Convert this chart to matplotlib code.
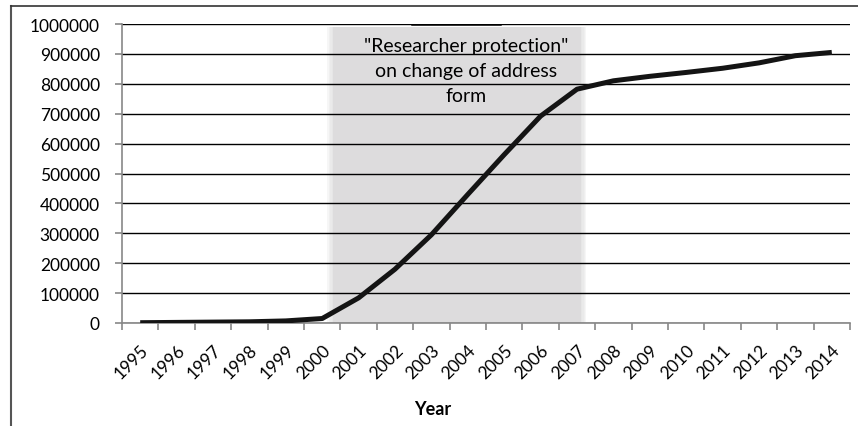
import matplotlib
matplotlib.use("Agg")
from matplotlib import pyplot as plt
from matplotlib.patches import Rectangle
import numpy as np

plt.rcParams['font.family'] = ['Lato', 'DejaVu Sans']

# Cumulative count per year
years = [str(y) for y in range(1995, 2015)]
counts = [1000, 2000, 3000, 4000, 7000, 15000, 84000, 180000, 295000, 430000,
          563000, 692000, 782000, 810000, 825000, 838000, 852000, 870000, 894000, 905000]

# Period when the address form carried the protection option
shade_from, shade_to = 5.3, 12.1
note = '"Researcher protection"\non change of address\nform'

fig = plt.figure(figsize=(8.58, 4.27), dpi=100)
ax = fig.add_axes([122 / 858, 1 - 324 / 427, 728 / 858, 299 / 427])

x = np.arange(len(years))

# soft-edged grey band
for k in range(5):
    off = (4 - k) * 0.04
    ax.add_patch(Rectangle((shade_from - off, 0), shade_to - shade_from + 2 * off, 990000,
                           facecolor='#dddcdd', alpha=1.0 if k == 4 else 0.25,
                           edgecolor='none', zorder=0))

ax.plot(x, counts, color='#141414', lw=3.6, solid_joinstyle='round',
        solid_capstyle='butt', zorder=3)
ax.plot([7.47, 9.88], [1000000, 1000000], color='black', lw=1.8, zorder=3)

ax.text(8.95, 955000, note, ha='center', va='top', fontsize=14,
        linespacing=1.55, zorder=4)

ax.set_xlim(-0.5, len(years) - 0.5)
ax.set_ylim(0, 1000000)
ax.set_yticks(range(0, 1000001, 100000))
ax.set_yticklabels([str(v) for v in range(0, 1000001, 100000)], fontsize=12.5)
ax.yaxis.grid(True, color='black', lw=1.0)
ax.set_axisbelow(True)

ax.set_xticks(x)
ax.set_xticklabels(years, rotation=45, ha='right', va='top',
                   rotation_mode='anchor', fontsize=12.5)
ax.set_xticks(np.arange(-0.5, len(years)), minor=True)
ax.tick_params(axis='x', which='major', length=0, pad=13)
ax.tick_params(axis='x', which='minor', length=5, color='#888888', width=1.2)
ax.tick_params(axis='y', length=5, color='#888888', width=1.2, pad=11)

for side in ('top', 'right'):
    ax.spines[side].set_visible(False)
for side in ('left', 'bottom'):
    ax.spines[side].set_color('#888888')
    ax.spines[side].set_linewidth(1.2)

fig.text(433 / 858, 1 - 410 / 427, 'Year', ha='center', va='center',
         fontsize=13, fontweight='bold')

# outer chart frame
fig.add_artist(plt.Line2D([11 / 858, 11 / 858], [0, 1 - 7 / 427],
                          color='#555555', lw=1.5, transform=fig.transFigure))
fig.add_artist(plt.Line2D([11 / 858, 1], [1 - 7 / 427, 1 - 7 / 427],
                          color='#333333', lw=1.2, transform=fig.transFigure))

fig.savefig('out.png', dpi=100)
